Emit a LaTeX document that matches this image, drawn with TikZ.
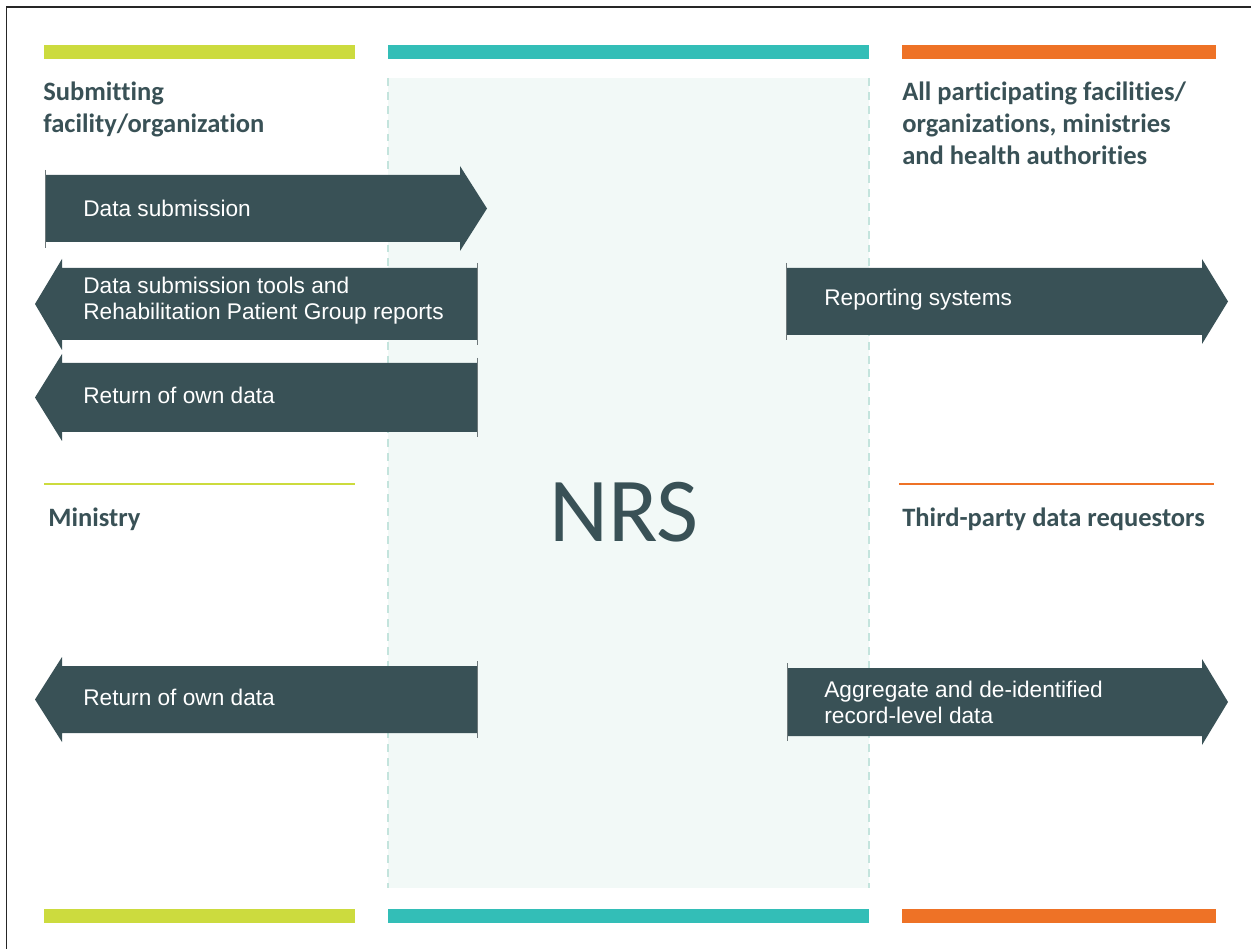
\documentclass[tikz,border=0pt]{standalone}
\usepackage{fontspec}
\setmainfont{Liberation Sans}
\newfontfamily\headfont[Ligatures=NoCommon]{Carlito}
\definecolor{slate}{RGB}{57,81,86}
\definecolor{lime}{RGB}{204,219,62}
\definecolor{teal}{RGB}{51,190,183}
\definecolor{orange}{RGB}{238,114,38}
\definecolor{mint}{RGB}{242,249,247}
\definecolor{mintline}{RGB}{196,228,221}
\definecolor{tailgray}{RGB}{110,120,122}
\begin{document}
\begin{tikzpicture}[x=0.02cm,y=-0.02cm,
				every node/.style={inner sep=0pt},
				heading/.style={text=slate,font=\headfont\bfseries\fontsize{15.1}{18.4}\selectfont,align=left,anchor=base west},
				arrowtext/.style={text=white,font=\fontsize{12.9}{14.7}\selectfont,align=left,anchor=west},
				blockarrow/.style={fill=slate},
				tail/.style={draw=tailgray,line width=0.5pt},
				divider/.style={line width=1.1pt},
				zoneedge/.style={draw=mintline,line width=1.1pt,dash pattern=on 4.5pt off 3.4pt}]
\useasboundingbox (0,0) rectangle (1251,949);
\draw[line width=0.9pt,black!85] (6.5,949) -- (6.5,7) -- (1251,7);

% middle zone
\fill[mint] (388,78) rectangle (869,888);
\draw[zoneedge] (388,78) -- (388,888);
\draw[zoneedge] (869,78) -- (869,888);

% colour bars
\fill[lime] (44,45) rectangle (355,59);
\fill[teal] (388,45) rectangle (869,59);
\fill[orange] (902,45) rectangle (1216,59);
\fill[lime] (44,909) rectangle (355,923);
\fill[teal] (388,909) rectangle (869,923);
\fill[orange] (902,909) rectangle (1216,923);
\draw[divider,lime] (44,484) -- (355,484);
\draw[divider,orange] (899,484) -- (1214,484);

% headings (multi-line ones sit on their last baseline)
\node[heading] (submitter) at (43,133) {Submitting\\facility/organization};
\node[heading] (participants) at (902,165) {All participating facilities/\\organizations, ministries\\and health authorities};
\node[heading] (ministry) at (48,526) {Ministry};
\node[heading] (requestors) at (902,526) {Third-party data requestors};
\node[text=slate,font=\headfont\fontsize{52}{52}\selectfont,anchor=base] (nrs) at (624,541) {NRS};

% arrows to the right
\fill[blockarrow] (45,175) -- (460,175) -- (460,166) -- (487,208.5) -- (460,251) -- (460,242) -- (45,242) -- cycle;
\draw[tail] (45,170) -- (45,248);
\fill[blockarrow] (786,268) -- (1202,268) -- (1202,259) -- (1228,301.5) -- (1202,344) -- (1202,335) -- (786,335) -- cycle;
\draw[tail] (786,263) -- (786,340);
\fill[blockarrow] (787,668) -- (1202,668) -- (1202,659) -- (1228,702) -- (1202,745) -- (1202,736) -- (787,736) -- cycle;
\draw[tail] (787,663) -- (787,741);

% arrows to the left
\fill[blockarrow] (477,268) -- (62,268) -- (62,259) -- (35,304) -- (62,350) -- (62,340) -- (477,340) -- cycle;
\draw[tail] (477,263) -- (477,345);
\fill[blockarrow] (477,363) -- (62,363) -- (62,354) -- (35,397.5) -- (62,441) -- (62,432) -- (477,432) -- cycle;
\draw[tail] (477,358) -- (477,437);
\fill[blockarrow] (477,666) -- (62,666) -- (62,657) -- (35,699.5) -- (62,742) -- (62,733) -- (477,733) -- cycle;
\draw[tail] (477,661) -- (477,738);

% arrow labels
\node[arrowtext] (submission) at (83,208) {Data submission};
\node[arrowtext] (tools) at (83,301) {Data submission tools and\\Rehabilitation Patient Group reports};
\node[arrowtext] (ownreturn) at (83,395) {Return of own data};
\node[arrowtext] (ministryreturn) at (83,697) {Return of own data};
\node[arrowtext] (reporting) at (824,300) {Reporting systems};
\node[arrowtext] (thirdparty) at (824,702) {Aggregate and de-identified\\record-level data};
\end{tikzpicture}
\end{document}
